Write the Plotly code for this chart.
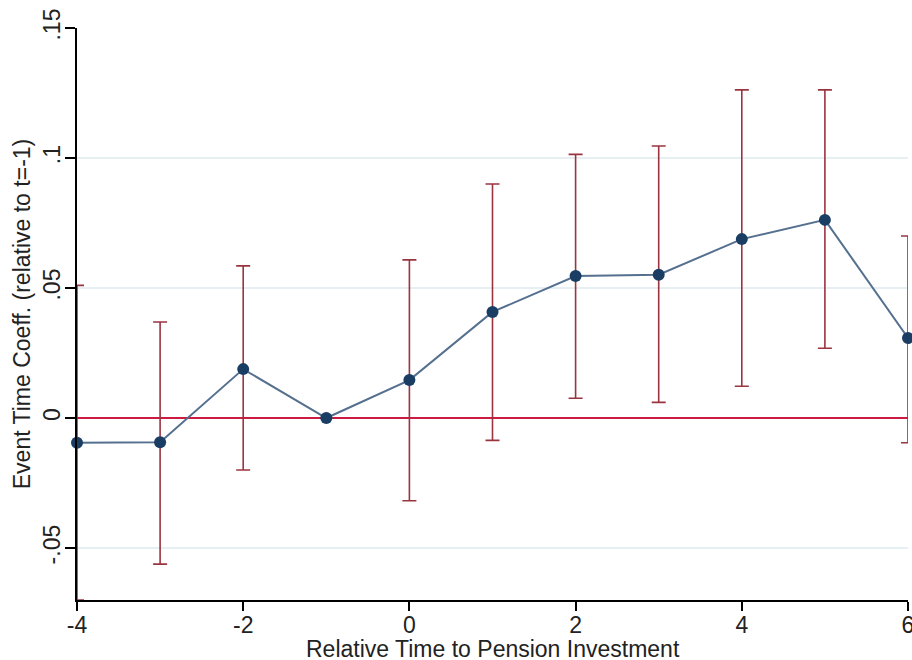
import plotly.graph_objects as go

rel_time = [-4, -3, -2, -1, 0, 1, 2, 3, 4, 5, 6]
coef = [-0.0095, -0.0093, 0.0188, 0.0, 0.0146, 0.0408, 0.0546, 0.0551, 0.0688, 0.0762, 0.0308]
ci_upper = [0.0510, 0.0369, 0.0585, 0.0, 0.0608, 0.0900, 0.1014, 0.1046, 0.1262, 0.1262, 0.0700]
ci_lower = [-0.0700, -0.0562, -0.0200, 0.0, -0.0318, -0.0086, 0.0076, 0.0060, 0.0122, 0.0268, -0.0095]

y_ticks = [-0.05, 0, 0.05, 0.1, 0.15]
y_ticklabels = ["-.05", "0", ".05", ".1", ".15"]
x_ticks = [-4, -2, 0, 2, 4, 6]
x_ticklabels = ["-4", "-2", "0", "2", "4", "6"]
x_title = "Relative Time to Pension Investment"
y_title = "Event Time Coeff. (relative to t=-1)"

err_plus = [u - c for u, c in zip(ci_upper, coef)]
err_minus = [c - l for c, l in zip(coef, ci_lower)]
# t=-1 is the reference period: no interval drawn
vis_plus = [None if t == -1 else e for t, e in zip(rel_time, err_plus)]
vis_minus = [None if t == -1 else e for t, e in zip(rel_time, err_minus)]

fig = go.Figure()

fig.add_trace(go.Scatter(
    x=[rel_time[0], rel_time[-1]], y=[0, 0], mode="lines",
    line=dict(color="#cc1a40", width=2), hoverinfo="skip", showlegend=False,
))

fig.add_trace(go.Scatter(
    x=rel_time, y=coef, mode="lines+markers",
    line=dict(color="#55708f", width=2),
    marker=dict(color="#1a3d63", size=12),
    error_y=dict(type="data", symmetric=False, array=vis_plus, arrayminus=vis_minus,
                 color="#9a3540", thickness=1.6, width=7),
    cliponaxis=False, showlegend=False,
))

font_family = "Liberation Sans, Arial, sans-serif"
fs = 23

fig.update_layout(
    width=912, height=660,
    margin=dict(l=77, r=4, t=28, b=60),
    paper_bgcolor="white", plot_bgcolor="white",
    font=dict(family=font_family, size=fs, color="#222222"),
    xaxis=dict(
        range=[-4, 6], tickvals=x_ticks, ticktext=x_ticklabels,
        ticks="outside", ticklen=9, tickwidth=2, ticklabelstandoff=-6,
        ticklabeloverflow="allow",
        tickcolor="black", showline=True, linecolor="black", linewidth=2,
        showgrid=False, zeroline=False, automargin=False,
        tickfont=dict(size=fs),
    ),
    yaxis=dict(
        range=[-0.07, 0.15], tickvals=y_ticks, ticktext=y_ticklabels,
        tickangle=-90, ticks="outside", ticklen=10, tickwidth=2, tickcolor="black",
        ticklabelstandoff=-4, ticklabeloverflow="allow",
        showline=True, linecolor="black", linewidth=2, automargin=False,
        showgrid=True, gridcolor="#e6eff2", gridwidth=1.5, zeroline=False,
        title=dict(text=y_title, standoff=2, font=dict(size=fs)),
        tickfont=dict(size=fs),
    ),
    annotations=[dict(
        text=x_title, xref="paper", yref="paper", x=0.5, y=-0.086,
        xanchor="center", yanchor="middle", showarrow=False,
        font=dict(size=fs, family=font_family, color="#222222"),
    )],
)

fig.write_html(
    "out.html",
    config={"displayModeBar": False},
    post_script="document.body.style.margin='0px';document.body.style.overflow='hidden';",
)
